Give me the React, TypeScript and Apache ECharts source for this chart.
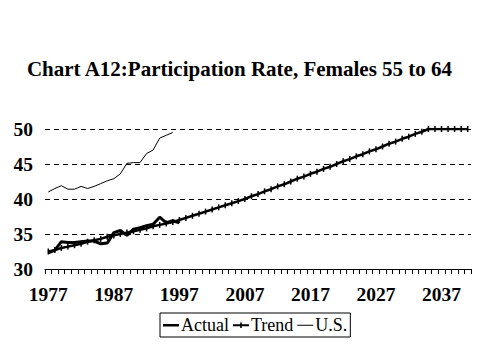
import React, { useEffect, useRef } from "react";
import * as echarts from "echarts";

const years: string[] = [];
for (let y = 1977; y <= 2041; y++) years.push(String(y));

const actual: number[] = [
  32.3, 32.7, 33.9, 33.8, 33.8, 33.9, 34.0, 34.0, 33.6, 33.7,
  35.2, 35.5, 34.8, 35.7, 35.9, 36.2, 36.4, 37.4, 36.6, 36.9,
  36.6,
];

const trend: number[] = [
  32.5, 32.7, 33.0, 33.2, 33.4, 33.6, 33.9, 34.1, 34.3, 34.6,
  34.8, 35.0, 35.2, 35.4, 35.6, 35.8, 36.1, 36.3, 36.5, 36.7,
  37.0, 37.3, 37.6, 37.9, 38.2, 38.5, 38.8, 39.1, 39.4, 39.7,
  40.0, 40.4, 40.7, 41.1, 41.4, 41.8, 42.1, 42.5, 42.9, 43.2,
  43.6, 43.9, 44.3, 44.6, 45.0, 45.4, 45.7, 46.1, 46.4, 46.8,
  47.1, 47.5, 47.9, 48.2, 48.6, 48.9, 49.3, 49.6,
  50.0, 50.0, 50.0, 50.0, 50.0, 50.0, 50.0,
];

const us: number[] = [
  41.0, 41.5, 41.9, 41.4, 41.4, 41.8, 41.5, 41.8, 42.2, 42.6,
  42.9, 43.6, 45.1, 45.2, 45.2, 46.5, 47.0, 48.7, 49.1, 49.5,
];

const FONT = "'Liberation Serif', 'Times New Roman', serif";

const ICON_THICK = "path://M0,0L0,0ZM0,3L16,3L16,5.5L0,5.5ZM0,8L0,8Z";
const ICON_TREND = "path://M0,0L0,0ZM0,3.2L7.2,3.2L7.2,1.5L8.8,1.5L8.8,3.2L16,3.2L16,5.3L8.8,5.3L8.8,7L7.2,7L7.2,5.3L0,5.3ZM0,8L0,8Z";
const ICON_THIN = "path://M0,0L0,0ZM0,3.7L16,3.7L16,4.8L0,4.8ZM0,8L0,8Z";

export default function App() {
  const ref = useRef<HTMLDivElement>(null);
  useEffect(() => {
    if (!ref.current) return;
    const chart = echarts.init(ref.current, undefined, { renderer: "svg" });
    chart.setOption({
      animation: false,
      backgroundColor: "#fff",
      title: {
        text: "Chart A12:Participation Rate, Females 55 to 64",
        left: "center",
        top: 53,
        textStyle: { fontFamily: FONT, fontSize: 21, fontWeight: "bold", color: "#000" },
      },
      grid: { left: 45, right: 8, top: 129, bottom: 90, containLabel: false },
      legend: {
        left: 160,
        top: 313,
        itemWidth: 16,
        itemHeight: 8,
        itemGap: 4,
        padding: [3, 3, 3, 3],
        borderColor: "#000",
        borderWidth: 1,
        borderRadius: 0,
        textStyle: { fontFamily: FONT, fontSize: 18, color: "#000", padding: [0, 0, 0, -3] },
        data: [
          { name: "Actual", icon: ICON_THICK },
          { name: "Trend", icon: ICON_TREND },
          { name: "U.S.", icon: ICON_THIN },
        ],
      },
      xAxis: {
        type: "category",
        data: years,
        boundaryGap: true,
        axisLine: { lineStyle: { color: "#000", width: 1 } },
        axisTick: { show: true, interval: 0, length: 5, lineStyle: { color: "#000" } },
        axisLabel: {
          interval: 9,
          margin: 15,
          fontFamily: FONT,
          fontSize: 19.5,
          fontWeight: "bold",
          color: "#000",
        },
        splitLine: { show: false },
      },
      yAxis: {
        type: "value",
        min: 30,
        max: 50,
        interval: 5,
        axisLine: { show: false },
        axisTick: { show: false },
        axisLabel: {
          margin: 12,
          fontFamily: FONT,
          fontSize: 19.5,
          fontWeight: "bold",
          color: "#000",
        },
        splitLine: { show: true, lineStyle: { color: "#000", width: 1, type: [5, 4] } },
      },
      series: [
        {
          name: "Actual",
          type: "line",
          data: actual,
          symbol: "none",
          lineStyle: { color: "#000", width: 3 },
          itemStyle: { color: "#000" },
          z: 3,
        },
        {
          name: "Trend",
          type: "line",
          data: trend,
          symbol: "rect",
          symbolSize: [1.5, 6],
          showSymbol: true,
          showAllSymbol: true,
          lineStyle: { color: "#000", width: 2.5 },
          itemStyle: { color: "#000" },
          z: 2,
        },
        {
          name: "U.S.",
          type: "line",
          data: us,
          symbol: "none",
          lineStyle: { color: "#000", width: 1 },
          itemStyle: { color: "#000" },
          z: 1,
        },
      ],
    });
    return () => chart.dispose();
  }, []);
  return <div ref={ref} style={{ width: 479, height: 359, position: "absolute", left: 0, top: 0 }} />;
}
